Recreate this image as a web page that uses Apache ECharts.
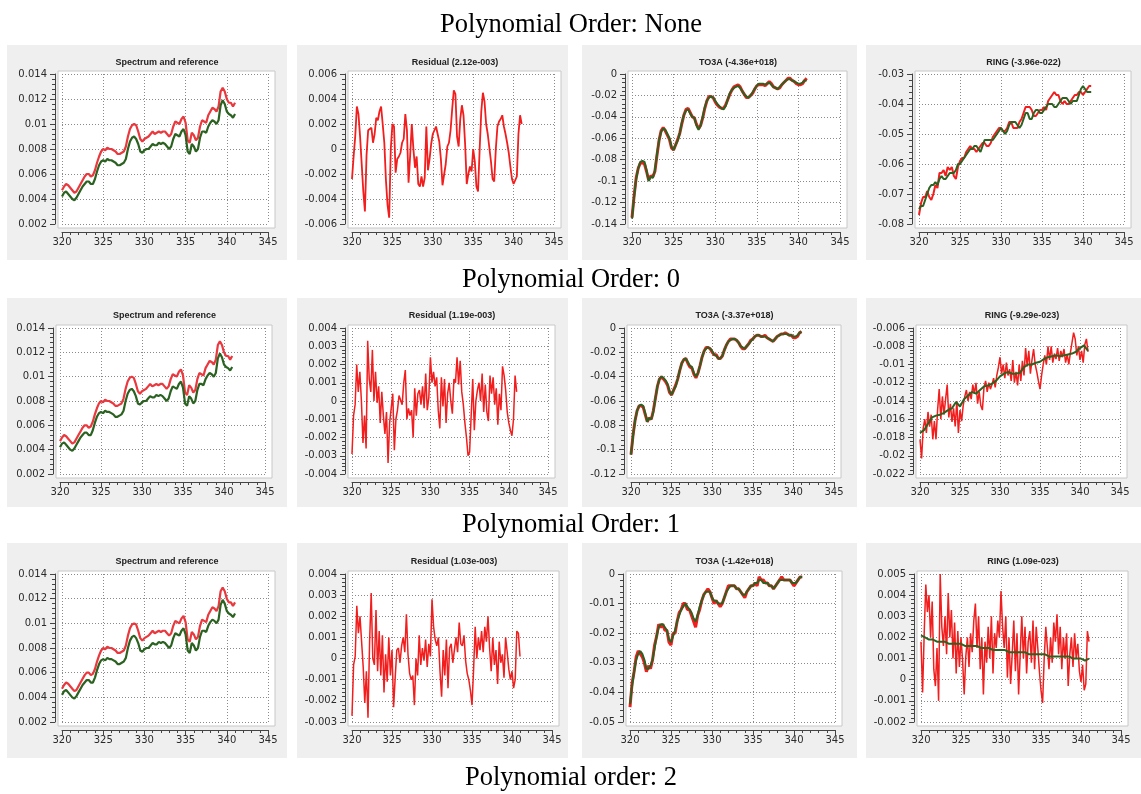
<!DOCTYPE html>
<html><head><meta charset="utf-8">
<script src="https://cdn.jsdelivr.net/npm/echarts@6/dist/echarts.min.js"></script>
<style>html,body{margin:0;padding:0;background:#fff}#c{width:1141px;height:794px}</style>
</head><body><div id="c"></div>
<script>
// ---------- text ----------
const CAPTIONS = ['Polynomial Order: None', 'Polynomial Order: 0', 'Polynomial Order: 1', 'Polynomial order: 2'];
const TITLES = [
  ['Spectrum and reference', 'Residual (2.12e-003)', 'TO3A (-4.36e+018)', 'RING (-3.96e-022)'],
  ['Spectrum and reference', 'Residual (1.19e-003)', 'TO3A (-3.37e+018)', 'RING (-9.29e-023)'],
  ['Spectrum and reference', 'Residual (1.03e-003)', 'TO3A (-1.42e+018)', 'RING (1.09e-023)']
];
// ---------- axis ranges (min, max, interval) ----------
const X_RANGE = [320, 345, 5];
const Y_MIN = [[0.002, -0.006, -0.14, -0.08], [0.002, -0.004, -0.12, -0.022], [0.002, -0.003, -0.05, -0.002]];
const Y_MAX = [[0.014, 0.006, 0, -0.03], [0.014, 0.004, 0, -0.006], [0.014, 0.004, 0, 0.005]];
const Y_STEP = [[0.002, 0.002, 0.02, 0.01], [0.002, 0.001, 0.02, 0.002], [0.002, 0.001, 0.01, 0.001]];

// ---------- wavelength sampling grids (nm) ----------
function wl(start, step, n) { const a = []; for (let i = 0; i < n; i++) a.push(+(start + i * step).toFixed(2)); return a; }
const WL25 = wl(320, 0.25, 85);
const WL20 = wl(320, 0.2, 106);
const WL50 = wl(320, 0.5, 43);

// ---------- Spectrum and reference (same in all rows) ----------
const specRed = [0.0047,0.0050,0.0052,0.0051,0.0049,0.0047,0.0045,0.0046,0.0049,0.0052,
0.0055,0.0058,0.0060,0.0060,0.0058,0.0059,0.0063,0.0069,0.0074,0.0078,
0.0080,0.0079,0.0081,0.0080,0.0080,0.0079,0.0078,0.0076,0.0076,0.0077,
0.0078,0.0082,0.0090,0.0096,0.0099,0.0100,0.0099,0.0094,0.0088,0.0086,
0.0088,0.0089,0.0090,0.0092,0.0094,0.0092,0.0093,0.0094,0.0093,0.0094,
0.0094,0.0092,0.0090,0.0092,0.0098,0.0102,0.0101,0.0100,0.0104,0.0106,
0.0101,0.0087,0.0085,0.0093,0.0091,0.0087,0.0089,0.0098,0.0103,0.0102,
0.0101,0.0107,0.0110,0.0113,0.0112,0.0110,0.0114,0.0126,0.0129,0.0126,
0.0120,0.0117,0.0117,0.0114,0.0117];
const specGreen = [0.0042,0.0045,0.0046,0.0044,0.0042,0.0040,0.0039,0.0041,0.0044,0.0047,
0.0050,0.0052,0.0054,0.0054,0.0052,0.0052,0.0056,0.0062,0.0067,0.0070,
0.0071,0.0070,0.0072,0.0071,0.0071,0.0070,0.0069,0.0067,0.0067,0.0068,
0.0069,0.0072,0.0080,0.0086,0.0089,0.0090,0.0088,0.0084,0.0078,0.0077,
0.0079,0.0080,0.0080,0.0082,0.0084,0.0083,0.0083,0.0085,0.0084,0.0085,
0.0084,0.0082,0.0080,0.0082,0.0088,0.0092,0.0091,0.0090,0.0094,0.0096,
0.0091,0.0078,0.0076,0.0084,0.0082,0.0078,0.0080,0.0089,0.0094,0.0094,
0.0093,0.0098,0.0101,0.0103,0.0102,0.0100,0.0103,0.0115,0.0119,0.0116,
0.0110,0.0108,0.0107,0.0105,0.0108];

// ---------- Residuals ----------
const resNone = [-0.0024,-0.0006,0.0010,0.0034,0.0028,0.0010,-0.0012,-0.0034,-0.0050,-0.0005,
0.0015,0.0016,0.0017,0.0005,0.0012,0.0025,0.0023,0.0030,0.0034,0.0020,
0.0005,-0.0025,-0.0045,-0.0055,0.0000,0.0020,0.0018,-0.0019,-0.0008,-0.0006,
-0.0003,0.0005,0.0008,0.0028,0.0015,-0.0027,-0.0005,0.0020,0.0000,-0.0015,
-0.0006,-0.0028,-0.0030,-0.0022,-0.0030,-0.0023,0.0018,-0.0017,-0.0008,0.0004,
0.0012,0.0015,0.0018,0.0012,0.0006,-0.0008,-0.0029,-0.0028,-0.0012,0.0002,
0.0005,0.0015,0.0032,0.0047,0.0044,0.0010,0.0002,0.0024,0.0035,0.0027,
0.0004,-0.0028,-0.0020,-0.0014,-0.0018,0.0000,-0.0010,-0.0030,-0.0034,0.0000,
0.0030,0.0045,0.0038,0.0020,0.0012,0.0001,-0.0010,-0.0024,-0.0026,0.0000,
0.0018,0.0022,0.0024,0.0027,0.0018,0.0012,0.0005,-0.0003,-0.0014,-0.0024,
-0.0028,-0.0029,-0.0022,0.0012,0.0027,0.0020];
const res0 = [-0.0029,-0.0008,-0.0002,0.0020,0.0005,0.0016,0.0000,-0.0023,-0.0008,-0.0026,
0.0033,0.0012,0.0005,0.0028,0.0000,0.0016,-0.0001,0.0008,-0.0012,0.0005,
-0.0008,-0.0018,-0.0006,-0.0034,-0.0012,-0.0004,0.0004,-0.0027,-0.0010,-0.0005,
0.0003,0.0004,-0.0002,0.0010,0.0017,-0.0010,-0.0004,-0.0008,-0.0005,-0.0020,
0.0007,-0.0008,0.0004,0.0006,-0.0002,0.0008,-0.0004,0.0015,-0.0005,0.0002,
0.0024,0.0010,0.0016,0.0008,0.0013,-0.0005,-0.0015,0.0013,-0.0003,0.0012,
-0.0012,0.0004,0.0010,0.0000,-0.0007,0.0012,0.0010,0.0024,0.0009,0.0022,
0.0005,-0.0002,-0.0012,-0.0020,-0.0030,-0.0028,-0.0008,0.0012,-0.0016,0.0000,
0.0006,0.0010,0.0000,0.0015,-0.0006,0.0009,-0.0006,-0.0011,0.0014,0.0004,
0.0013,-0.0002,0.0007,-0.0013,0.0004,-0.0005,0.0019,0.0014,0.0006,-0.0006,
-0.0012,-0.0016,-0.0019,-0.0010,0.0014,0.0005];
const res1 = [-0.0027,-0.0003,0.0001,0.0025,0.0012,0.0020,0.0008,-0.0004,-0.0021,-0.0006,
-0.0028,0.0008,0.0031,0.0000,-0.0003,0.0023,-0.0006,0.0013,-0.0008,0.0011,
-0.0016,0.0002,-0.0011,0.0010,-0.0008,0.0004,-0.0023,-0.0009,0.0004,0.0005,
-0.0002,0.0006,0.0010,0.0003,0.0021,0.0002,-0.0007,-0.0010,-0.0008,-0.0022,
0.0000,-0.0008,0.0011,-0.0003,0.0005,-0.0001,0.0009,-0.0004,0.0007,0.0001,
0.0028,0.0015,0.0009,0.0006,0.0010,-0.0006,-0.0018,0.0004,-0.0008,0.0009,
-0.0014,0.0005,0.0007,-0.0002,0.0004,0.0010,0.0003,0.0017,0.0007,0.0006,
0.0011,-0.0001,-0.0007,-0.0010,-0.0015,-0.0022,-0.0005,0.0015,0.0000,0.0010,
0.0004,0.0013,0.0003,0.0015,0.0008,0.0020,0.0005,-0.0006,0.0010,-0.0003,
0.0004,-0.0012,0.0008,-0.0002,0.0002,-0.0009,0.0010,0.0003,-0.0005,-0.0010,
-0.0006,-0.0014,-0.0010,0.0013,0.0012,0.0001];

// ---------- TO3A (red = fitted, green = scaled cross section) ----------
const o3NoneRed = [-0.134,-0.114,-0.097,-0.088,-0.083,-0.083,-0.084,-0.091,-0.099,-0.095,
-0.096,-0.091,-0.076,-0.062,-0.053,-0.050,-0.053,-0.057,-0.061,-0.069,
-0.071,-0.066,-0.061,-0.055,-0.046,-0.038,-0.033,-0.032,-0.036,-0.040,
-0.041,-0.047,-0.051,-0.048,-0.041,-0.032,-0.025,-0.021,-0.021,-0.022,
-0.026,-0.029,-0.031,-0.032,-0.032,-0.029,-0.024,-0.019,-0.015,-0.012,
-0.011,-0.010,-0.012,-0.016,-0.019,-0.022,-0.022,-0.020,-0.018,-0.014,
-0.011,-0.010,-0.010,-0.010,-0.011,-0.009,-0.007,-0.009,-0.012,-0.013,
-0.014,-0.013,-0.010,-0.008,-0.006,-0.004,-0.004,-0.006,-0.007,-0.009,
-0.010,-0.010,-0.009,-0.006,-0.004];
const o3NoneGreen = [-0.135,-0.115,-0.098,-0.088,-0.082,-0.081,-0.082,-0.090,-0.100,-0.096,
-0.097,-0.090,-0.075,-0.062,-0.054,-0.051,-0.052,-0.056,-0.060,-0.068,
-0.071,-0.066,-0.062,-0.055,-0.045,-0.038,-0.034,-0.033,-0.037,-0.040,
-0.041,-0.048,-0.052,-0.048,-0.040,-0.031,-0.025,-0.022,-0.021,-0.022,
-0.025,-0.028,-0.030,-0.032,-0.033,-0.030,-0.024,-0.018,-0.015,-0.013,
-0.012,-0.011,-0.013,-0.016,-0.019,-0.021,-0.022,-0.020,-0.017,-0.014,
-0.011,-0.009,-0.009,-0.009,-0.010,-0.009,-0.008,-0.010,-0.012,-0.013,
-0.014,-0.012,-0.010,-0.008,-0.006,-0.005,-0.005,-0.006,-0.007,-0.008,
-0.009,-0.009,-0.008,-0.006,-0.006];
const o3P0Red = [-0.104,-0.088,-0.076,-0.068,-0.064,-0.064,-0.065,-0.071,-0.077,-0.074,
-0.075,-0.068,-0.058,-0.048,-0.042,-0.040,-0.042,-0.044,-0.047,-0.053,
-0.055,-0.051,-0.047,-0.042,-0.035,-0.029,-0.026,-0.025,-0.029,-0.032,
-0.033,-0.038,-0.041,-0.037,-0.031,-0.024,-0.019,-0.016,-0.016,-0.017,
-0.020,-0.022,-0.022,-0.025,-0.025,-0.023,-0.018,-0.014,-0.011,-0.009,
-0.009,-0.009,-0.010,-0.012,-0.015,-0.017,-0.017,-0.015,-0.013,-0.010,
-0.009,-0.007,-0.006,-0.006,-0.007,-0.007,-0.006,-0.008,-0.009,-0.010,
-0.011,-0.009,-0.007,-0.006,-0.005,-0.005,-0.004,-0.005,-0.006,-0.006,
-0.008,-0.008,-0.007,-0.004,-0.003];
const o3P0Green = [-0.104,-0.089,-0.076,-0.068,-0.064,-0.063,-0.064,-0.070,-0.077,-0.074,
-0.075,-0.069,-0.058,-0.048,-0.042,-0.040,-0.041,-0.043,-0.046,-0.052,
-0.055,-0.051,-0.048,-0.042,-0.035,-0.029,-0.026,-0.025,-0.028,-0.031,
-0.032,-0.037,-0.040,-0.037,-0.031,-0.024,-0.019,-0.017,-0.016,-0.017,
-0.019,-0.022,-0.023,-0.025,-0.025,-0.023,-0.018,-0.014,-0.011,-0.010,
-0.009,-0.009,-0.010,-0.012,-0.015,-0.016,-0.017,-0.015,-0.013,-0.011,
-0.009,-0.007,-0.006,-0.006,-0.007,-0.007,-0.007,-0.008,-0.009,-0.010,
-0.011,-0.009,-0.007,-0.006,-0.005,-0.005,-0.005,-0.005,-0.006,-0.006,
-0.007,-0.007,-0.006,-0.004,-0.003];
const o3P1Red = [-0.045,-0.037,-0.033,-0.028,-0.026,-0.027,-0.028,-0.030,-0.033,-0.031,
-0.032,-0.029,-0.024,-0.021,-0.017,-0.018,-0.017,-0.019,-0.019,-0.023,
-0.024,-0.020,-0.020,-0.016,-0.013,-0.012,-0.010,-0.010,-0.012,-0.012,
-0.014,-0.016,-0.018,-0.014,-0.012,-0.009,-0.007,-0.006,-0.005,-0.006,
-0.008,-0.010,-0.009,-0.010,-0.011,-0.010,-0.008,-0.006,-0.004,-0.004,
-0.004,-0.004,-0.005,-0.005,-0.006,-0.007,-0.008,-0.006,-0.005,-0.004,
-0.004,-0.003,-0.004,-0.001,-0.002,-0.002,-0.003,-0.003,-0.004,-0.004,
-0.005,-0.004,-0.003,-0.002,-0.001,-0.002,-0.002,-0.002,-0.002,-0.003,
-0.004,-0.003,-0.002,-0.001,-0.001];
const o3P1Green = [-0.044,-0.038,-0.033,-0.029,-0.027,-0.026,-0.027,-0.029,-0.032,-0.032,
-0.031,-0.029,-0.025,-0.021,-0.018,-0.017,-0.017,-0.018,-0.019,-0.022,
-0.023,-0.021,-0.019,-0.016,-0.014,-0.012,-0.011,-0.010,-0.011,-0.012,
-0.013,-0.015,-0.016,-0.014,-0.011,-0.009,-0.007,-0.006,-0.006,-0.006,
-0.008,-0.009,-0.009,-0.010,-0.010,-0.010,-0.008,-0.006,-0.005,-0.004,
-0.004,-0.004,-0.005,-0.005,-0.006,-0.007,-0.007,-0.006,-0.005,-0.004,
-0.004,-0.003,-0.003,-0.002,-0.002,-0.003,-0.003,-0.003,-0.004,-0.004,
-0.005,-0.004,-0.003,-0.002,-0.002,-0.002,-0.002,-0.002,-0.002,-0.003,
-0.003,-0.003,-0.002,-0.001,-0.001];

// ---------- RING ----------
const ringNoneRed = [-0.077,-0.073,-0.071,-0.071,-0.069,-0.071,-0.072,-0.070,-0.067,-0.068,
-0.063,-0.063,-0.062,-0.064,-0.061,-0.062,-0.061,-0.064,-0.065,-0.061,
-0.059,-0.058,-0.058,-0.056,-0.055,-0.054,-0.055,-0.055,-0.056,-0.055,
-0.054,-0.053,-0.053,-0.054,-0.054,-0.053,-0.051,-0.050,-0.049,-0.048,
-0.048,-0.049,-0.049,-0.048,-0.046,-0.046,-0.048,-0.048,-0.048,-0.046,
-0.045,-0.043,-0.041,-0.041,-0.041,-0.042,-0.044,-0.044,-0.043,-0.042,
-0.042,-0.041,-0.042,-0.039,-0.038,-0.037,-0.036,-0.037,-0.037,-0.039,
-0.040,-0.039,-0.040,-0.040,-0.039,-0.038,-0.037,-0.037,-0.036,-0.036,
-0.037,-0.036,-0.035,-0.034,-0.034];
const ringNoneGreen = [-0.075,-0.074,-0.074,-0.072,-0.070,-0.068,-0.067,-0.067,-0.066,-0.067,
-0.065,-0.064,-0.065,-0.065,-0.064,-0.063,-0.063,-0.063,-0.062,-0.060,
-0.060,-0.059,-0.058,-0.057,-0.056,-0.055,-0.055,-0.054,-0.054,-0.055,
-0.056,-0.054,-0.052,-0.052,-0.052,-0.052,-0.052,-0.051,-0.050,-0.049,
-0.048,-0.049,-0.050,-0.049,-0.047,-0.046,-0.046,-0.046,-0.047,-0.048,
-0.047,-0.045,-0.043,-0.043,-0.045,-0.045,-0.043,-0.042,-0.042,-0.043,
-0.043,-0.042,-0.041,-0.040,-0.040,-0.040,-0.041,-0.041,-0.040,-0.039,
-0.038,-0.038,-0.038,-0.039,-0.040,-0.039,-0.039,-0.039,-0.037,-0.035,
-0.034,-0.035,-0.036,-0.036,-0.036];
const ringP0Red = [-0.0182,-0.0203,-0.0170,-0.0160,-0.0175,-0.0152,-0.0168,-0.0155,-0.0182,-0.0162,
-0.0182,-0.0150,-0.0127,-0.0160,-0.0135,-0.0155,-0.0138,-0.0122,-0.0158,-0.0143,
-0.0163,-0.0148,-0.0168,-0.0140,-0.0175,-0.0150,-0.0162,-0.0145,-0.0135,-0.0128,
-0.0140,-0.0130,-0.0138,-0.0122,-0.0132,-0.0120,-0.0143,-0.0130,-0.0145,-0.0150,
-0.0125,-0.0118,-0.0130,-0.0120,-0.0127,-0.0122,-0.0115,-0.0125,-0.0112,-0.0103,
-0.0092,-0.0110,-0.0100,-0.0115,-0.0098,-0.0112,-0.0105,-0.0118,-0.0095,-0.0120,
-0.0108,-0.0123,-0.0100,-0.0118,-0.0096,-0.0112,-0.0082,-0.0102,-0.0085,-0.0110,
-0.0095,-0.0083,-0.0100,-0.0108,-0.0118,-0.0127,-0.0112,-0.0100,-0.0090,-0.0100,
-0.0080,-0.0095,-0.0080,-0.0098,-0.0088,-0.0094,-0.0082,-0.0096,-0.0085,-0.0092,
-0.0083,-0.0098,-0.0089,-0.0100,-0.0087,-0.0076,-0.0065,-0.0072,-0.0090,-0.0080,
-0.0095,-0.0085,-0.0098,-0.0078,-0.0072,-0.0086];
const ringP0Green = [-0.0175,-0.0172,-0.0165,-0.0158,-0.0156,-0.0155,-0.0153,-0.0150,-0.0148,-0.0141,
-0.0146,-0.0138,-0.0134,-0.0130,-0.0132,-0.0128,-0.0124,-0.0123,-0.0121,-0.0118,
-0.0113,-0.0110,-0.0108,-0.0110,-0.0110,-0.0109,-0.0103,-0.0100,-0.0100,-0.0098,
-0.0097,-0.0094,-0.0092,-0.0091,-0.0090,-0.0091,-0.0090,-0.0089,-0.0088,-0.0086,
-0.0082,-0.0079,-0.0085];
const ringP1Red = [0.0018,-0.0006,0.0022,0.0045,0.0032,0.0040,0.0020,0.0037,0.0005,-0.0003,
0.0015,-0.0010,0.0050,0.0025,0.0016,0.0030,0.0012,0.0041,0.0020,0.0033,
0.0010,0.0027,0.0003,0.0023,0.0006,0.0020,0.0009,-0.0007,0.0011,0.0020,
0.0006,0.0022,0.0013,0.0028,0.0036,0.0015,0.0030,0.0005,0.0020,-0.0007,
0.0018,0.0008,0.0025,0.0010,0.0030,0.0003,0.0022,0.0015,0.0028,0.0020,
0.0042,0.0025,0.0015,0.0030,0.0001,0.0020,-0.0002,0.0012,0.0028,0.0004,
0.0022,-0.0007,0.0012,0.0030,0.0010,0.0025,0.0003,0.0018,0.0023,0.0008,
0.0028,0.0005,0.0025,0.0015,0.0004,-0.0005,-0.0011,0.0010,0.0025,0.0015,
0.0005,0.0020,0.0008,0.0027,0.0018,0.0031,0.0012,0.0025,0.0005,0.0020,
0.0010,0.0022,-0.0003,0.0012,0.0020,0.0006,0.0022,0.0010,0.0017,0.0004,
-0.0001,0.0007,-0.0005,-0.0002,0.0023,0.0018];
const ringP1Green = [0.0021,0.0020,0.0019,0.0019,0.0018,0.0018,0.0018,0.0017,0.0017,0.0017,
0.0017,0.0016,0.0016,0.0016,0.0016,0.0015,0.0015,0.0015,0.0014,0.0014,
0.0014,0.0014,0.0013,0.0013,0.0013,0.0013,0.0013,0.0012,0.0012,0.0012,
0.0012,0.0012,0.0011,0.0011,0.0011,0.0011,0.0011,0.0011,0.0010,0.0010,
0.0010,0.0009,0.0010];

// ---------- styling / layout ----------
const RED = '#f21d1d', SPEC_RED = '#e9383e', GREEN = '#2b6221';
const PANELS = [
  [{x: WL25, y: specRed, c: SPEC_RED, w: 2.2}, {x: WL25, y: specGreen, c: GREEN, w: 2.2}],
  [{x: WL20, y: resNone, c: RED, w: 1.8}],
  [{x: WL25, y: o3NoneRed, c: RED, w: 3}, {x: WL25, y: o3NoneGreen, c: GREEN, w: 2}],
  [{x: WL25, y: ringNoneRed, c: RED, w: 2}, {x: WL25, y: ringNoneGreen, c: GREEN, w: 2}],
  [{x: WL25, y: specRed, c: SPEC_RED, w: 2.2}, {x: WL25, y: specGreen, c: GREEN, w: 2.2}],
  [{x: WL20, y: res0, c: RED, w: 1.5}],
  [{x: WL25, y: o3P0Red, c: RED, w: 3}, {x: WL25, y: o3P0Green, c: GREEN, w: 2}],
  [{x: WL20, y: ringP0Red, c: RED, w: 1.5}, {x: WL50, y: ringP0Green, c: GREEN, w: 2}],
  [{x: WL25, y: specRed, c: SPEC_RED, w: 2.2}, {x: WL25, y: specGreen, c: GREEN, w: 2.2}],
  [{x: WL20, y: res1, c: RED, w: 1.5}],
  [{x: WL25, y: o3P1Red, c: RED, w: 3}, {x: WL25, y: o3P1Green, c: GREEN, w: 2}],
  [{x: WL20, y: ringP1Red, c: RED, w: 1.5}, {x: WL50, y: ringP1Green, c: GREEN, w: 2}]
];
const ROW_BOX = [[74, 224], [328, 474], [574, 722]];
const COL_BOX = [
  [[62, 268], [352, 554], [632, 840], [919, 1124]],
  [[60, 265], [352, 548], [631, 834], [920, 1120]],
  [[62, 268], [352, 552], [630, 835], [921, 1121]]
];
const PANEL_Y = [[45, 260], [298, 507], [543, 758]];
const PANEL_X = [[7, 287], [297, 568], [582, 857], [866, 1141]];
const TITLE_Y = [63, 316, 562];
const CAPTION_Y = [25, 280, 525, 778];

const chart = echarts.init(document.getElementById('c'), null, {renderer: 'canvas', width: 1141, height: 794});
const grids = [], xAxes = [], yAxes = [], series = [], graphics = [];
const axColor = '#444';
const labelStyle = {color: '#2a2a2a', fontFamily: 'DejaVu Sans', fontSize: 10};

function pairs(xs, ys) { return ys.map((v, i) => [xs[i], v]); }

PANELS.forEach((lines, i) => {
  const r = Math.floor(i / 4), c = i % 4;
  const [l, rt] = COL_BOX[r][c];
  const [t, b] = ROW_BOX[r];
  grids.push({left: l, top: t, width: rt - l, height: b - t, containLabel: false, outerBoundsMode: 'none'});
  xAxes.push({
    gridIndex: i, type: 'value', min: X_RANGE[0], max: X_RANGE[1], interval: X_RANGE[2], offset: 8,
    axisLine: {show: true, onZero: false, lineStyle: {color: axColor, width: 1}},
    axisTick: {show: true, length: 5, lineStyle: {color: axColor}},
    minorTick: {show: true, splitNumber: 5, length: 3, lineStyle: {color: axColor}},
    splitLine: {show: true, lineStyle: {color: '#8a8a8a', type: [1, 2], width: 1}},
    axisLabel: Object.assign({margin: 5}, labelStyle)
  });
  yAxes.push({
    gridIndex: i, type: 'value', min: Y_MIN[r][c], max: Y_MAX[r][c], interval: Y_STEP[r][c], offset: 7,
    axisLine: {show: true, onZero: false, lineStyle: {color: axColor, width: 1}},
    axisTick: {show: true, length: 5, lineStyle: {color: axColor}},
    minorTick: {show: true, splitNumber: 5, length: 3, lineStyle: {color: axColor}},
    splitLine: {show: true, lineStyle: {color: '#8a8a8a', type: [1, 2], width: 1}},
    axisLabel: Object.assign({margin: 8}, labelStyle)
  });
  lines.forEach(s => {
    series.push({
      type: 'line', xAxisIndex: i, yAxisIndex: i, data: pairs(s.x, s.y),
      showSymbol: false, symbol: 'none', silent: true, animation: false,
      lineStyle: {color: s.c, width: s.w}, z: 3
    });
  });
  // panel background + white plot area
  graphics.push({type: 'rect', z: -30, silent: true,
    shape: {x: PANEL_X[c][0], y: PANEL_Y[r][0], width: PANEL_X[c][1] - PANEL_X[c][0], height: PANEL_Y[r][1] - PANEL_Y[r][0]},
    style: {fill: '#efefef'}});
  graphics.push({type: 'rect', z: -20, silent: true,
    shape: {x: l - 4, y: t - 3, width: rt - l + 11, height: b - t + 7},
    style: {fill: '#ffffff', stroke: '#c8c8c8', lineWidth: 1}});
  graphics.push({type: 'text', z: 10, silent: true,
    style: {text: TITLES[r][c], x: (l + rt) / 2 + 2, y: TITLE_Y[r], align: 'center', verticalAlign: 'middle',
      fontFamily: 'Liberation Sans', fontWeight: 'bold', fontSize: 9, fill: '#222'}});
});
CAPTIONS.forEach((txt, k) => {
  graphics.push({type: 'text', z: 10, silent: true,
    style: {text: txt, x: 571, y: CAPTION_Y[k], align: 'center', verticalAlign: 'middle',
      fontFamily: 'Liberation Serif', fontSize: 26.5, fill: '#000'}});
});

chart.setOption({
  animation: false,
  backgroundColor: '#ffffff',
  grid: grids, xAxis: xAxes, yAxis: yAxes, series: series,
  graphic: {elements: graphics}
});
</script></body></html>
